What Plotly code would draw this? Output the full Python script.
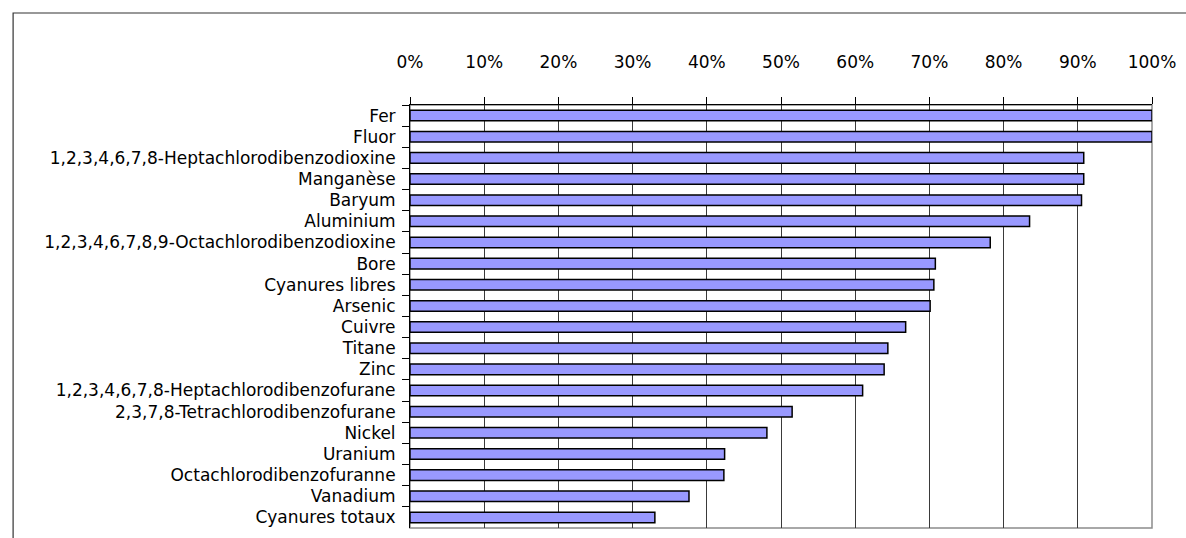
import plotly.graph_objects as go

# Substances, ordered from top to bottom
substances = [
    "Fer",
    "Fluor",
    "1,2,3,4,6,7,8-Heptachlorodibenzodioxine",
    "Manganèse",
    "Baryum",
    "Aluminium",
    "1,2,3,4,6,7,8,9-Octachlorodibenzodioxine",
    "Bore",
    "Cyanures libres",
    "Arsenic",
    "Cuivre",
    "Titane",
    "Zinc",
    "1,2,3,4,6,7,8-Heptachlorodibenzofurane",
    "2,3,7,8-Tetrachlorodibenzofurane",
    "Nickel",
    "Uranium",
    "Octachlorodibenzofuranne",
    "Vanadium",
    "Cyanures totaux",
]

# Share (%) for each substance
shares = [
    100.0, 100.0, 90.8, 90.8, 90.5, 83.5, 78.2, 70.8, 70.6, 70.1,
    66.8, 64.4, 63.9, 61.0, 51.5, 48.1, 42.4, 42.3, 37.6, 33.0,
]

x_ticks = list(range(0, 101, 10))
x_tick_labels = [f"{v}%" for v in x_ticks]

FONT = "DejaVu Sans"

fig = go.Figure(
    go.Bar(
        x=shares,
        y=substances,
        orientation="h",
        marker=dict(color="#9999FF", line=dict(color="black", width=1.5)),
        hoverinfo="x+y",
    )
)

fig.update_layout(
    width=1186,
    height=538,
    margin=dict(l=410, r=30, t=105, b=10),
    paper_bgcolor="white",
    plot_bgcolor="white",
    bargap=0.5,
    showlegend=False,
    font=dict(family=FONT, size=17, color="black"),
    shapes=[
        # plot area frame (grey right/bottom edges)
        dict(type="rect", xref="paper", yref="paper", x0=0, x1=1, y0=0, y1=1,
             line=dict(color="#8c8c8c", width=1.5), layer="below"),
        # outer chart frame
        dict(type="rect", xref="paper", yref="paper",
             x0=-0.5349, x1=1.05, y0=-0.2, y1=1.2175,
             line=dict(color="#333333", width=1.2), layer="below"),
    ],
)

fig.update_xaxes(
    side="top",
    range=[0, 100],
    tickvals=x_ticks,
    ticktext=x_tick_labels,
    ticks="outside",
    ticklen=7,
    tickcolor="black",
    showline=True,
    linecolor="black",
    linewidth=1,
    showgrid=True,
    gridcolor="#3a3a3a",
    gridwidth=1,
    zeroline=False,
    ticklabelstandoff=22,
    tickfont=dict(family=FONT, size=17),
    fixedrange=True,
)

fig.update_yaxes(
    type="category",
    categoryorder="array",
    categoryarray=substances,
    autorange="reversed",
    tickson="boundaries",
    ticks="outside",
    ticklen=7,
    tickcolor="black",
    showline=True,
    linecolor="black",
    linewidth=1,
    showgrid=False,
    ticklabelstandoff=10,
    tickfont=dict(family=FONT, size=17),
    fixedrange=True,
)

fig.write_html("out.html")
